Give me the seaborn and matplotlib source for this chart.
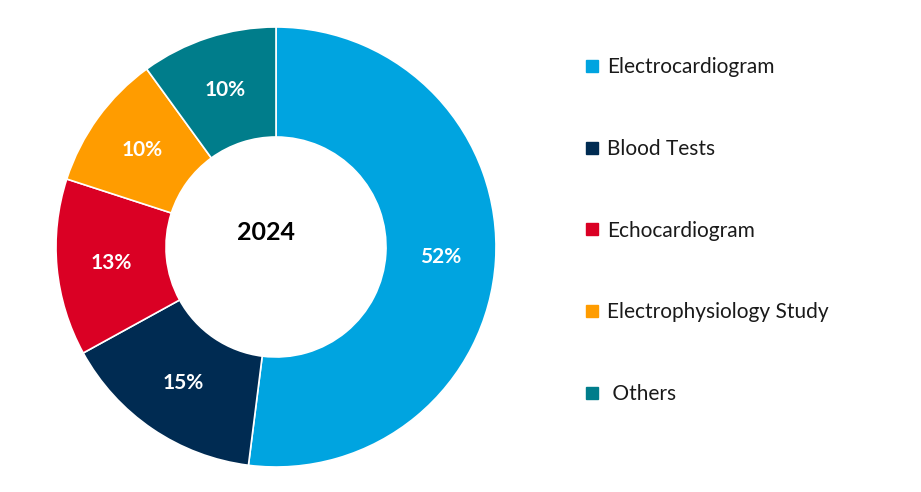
import matplotlib
matplotlib.use("Agg")
import matplotlib.pyplot as plt
from matplotlib.lines import Line2D
import seaborn as sns

categories = ["Electrocardiogram", "Blood Tests", "Echocardiogram",
              "Electrophysiology Study", "Others"]
values = [52, 15, 13, 10, 10]
center_label = "2024"
colors = ["#00A4E0", "#002B52", "#DA0024", "#FF9C00", "#007D8B"]

sns.set_theme(style="white")
plt.rcParams["font.family"] = ["Lato", "DejaVu Sans"]

fig = plt.figure(figsize=(9.21, 4.92), dpi=100)
ax = fig.add_axes([56 / 921, 25 / 492, 440 / 921, 440 / 492])
palette = sns.color_palette(colors)

wedges, texts, autotexts = ax.pie(
    values, colors=palette, startangle=90, counterclock=False,
    radius=1.0, autopct=lambda p: f"{p:.0f}%", pctdistance=0.75,
    wedgeprops=dict(width=0.5, edgecolor="white", linewidth=1.2),
    textprops=dict(color="white", fontsize=15, fontweight="bold"))
ax.text(-0.045, 0.068, center_label, ha="center", va="center", fontsize=18,
        fontweight="bold", color="black")
ax.set_xlim(-1, 1)
ax.set_ylim(-1, 1)
ax.set_aspect("equal")
ax.axis("off")

handles = [Line2D([0], [0], marker="s", linestyle="none", markersize=8,
                  markerfacecolor=c, markeredgecolor=c) for c in palette]
labels = [c if c != "Others" else " " + c for c in categories]
leg = fig.legend(handles, labels, loc="upper left",
                 bbox_to_anchor=(575 / 921, 1 - 49 / 492), frameon=False,
                 fontsize=15, labelspacing=2.96, handlelength=0.8,
                 handletextpad=0.35, borderaxespad=0)
for t in leg.get_texts():
    t.set_color("#1a1a1a")

fig.savefig("out.png", dpi=100, facecolor="white")
